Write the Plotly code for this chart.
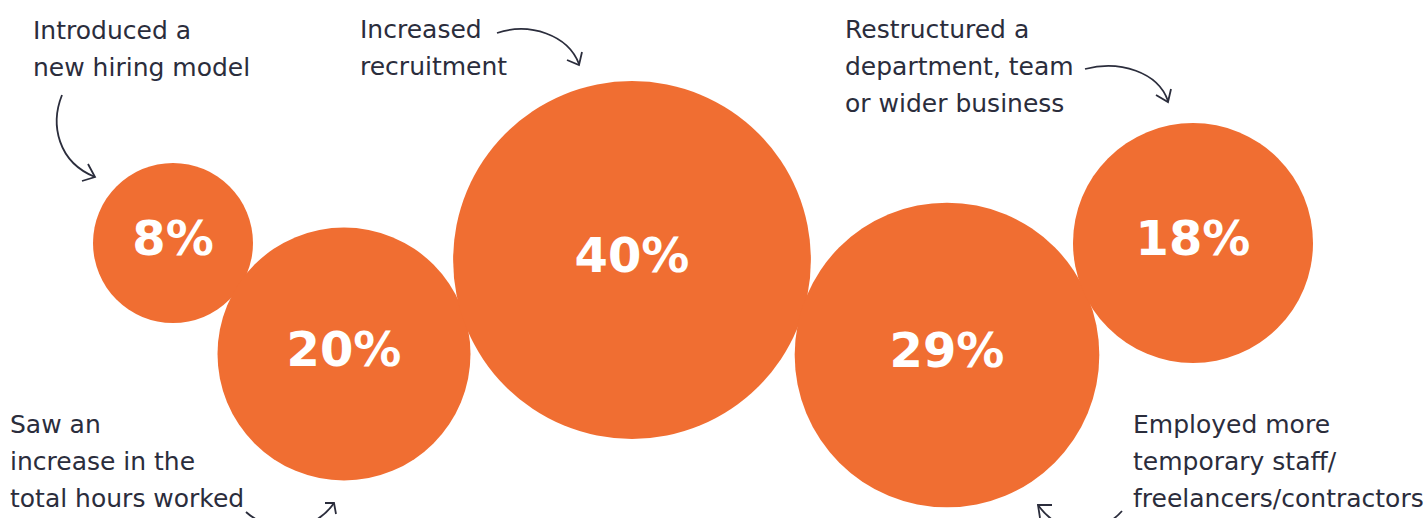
import plotly.graph_objects as go

# ---- data ----
categories = [
    "Introduced a<br>new hiring model",
    "Saw an<br>increase in the<br>total hours worked",
    "Increased<br>recruitment",
    "Employed more<br>temporary staff/<br>freelancers/contractors",
    "Restructured a<br>department, team<br>or wider business",
]
values = [8, 20, 40, 29, 18]
value_labels = ["8%", "20%", "40%", "29%", "18%"]

# ---- layout (pixel positions) ----
W, H = 1428, 518
centers_x = [173, 344, 632, 947, 1193]
centers_y = [243, 354, 260, 355, 243]
label_left = [31, 8, 358, 1131, 843]
label_baseline = [39, 433, 38, 433, 38]
LINE_GAP = 37
REF_VALUE, REF_DIAMETER = 8, 160  # smallest bubble diameter in px

ORANGE = "#F06E32"
INK = "#2B2D3C"

fig = go.Figure()
fig.add_trace(go.Scatter(
    x=centers_x, y=centers_y,
    mode="markers+text",
    text=value_labels,
    textposition="middle center",
    textfont=dict(family="DejaVu Sans", size=48, color="white", weight="bold"),
    marker=dict(size=values, sizemode="area",
                sizeref=2 * REF_VALUE / REF_DIAMETER**2,
                color=ORANGE, line=dict(width=0), opacity=1),
    hoverinfo="skip", showlegend=False,
))

annotations = []
TEXT_SIZE = 25
for lab, x0, b0 in zip(categories, label_left, label_baseline):
    for i, line in enumerate(lab.split("<br>")):
        annotations.append(dict(
            x=x0, y=b0 + i * LINE_GAP - 9, xref="x", yref="y",
            text=line, showarrow=False, xanchor="left", yanchor="middle",
            font=dict(family="DejaVu Sans", size=TEXT_SIZE, color=INK),
        ))

# curved arrows (decorations)
arrow_paths = [
    "M 62 95 C 50 125, 58 162, 95 177",
    "M 497 33 C 530 22, 568 35, 579 64",
    "M 1085 69 C 1120 60, 1158 72, 1168 101",
    "M 246 512 C 268 532, 312 535, 334 503",
    "M 1122 511 C 1100 536, 1060 536, 1038 505",
]
head_paths = [
    "M 82 181 L 95 177 L 88 164",
    "M 567 60 L 579 65 L 582 52",
    "M 1156 95 L 1168 102 L 1171 89",
    "M 325 503 L 334 503 L 336 514",
    "M 1052 505 L 1038 505 L 1040 518",
]
shapes = []
for p in arrow_paths + head_paths:
    shapes.append(dict(type="path", path=p, xref="x", yref="y",
                       line=dict(color=INK, width=1.8), fillcolor="rgba(0,0,0,0)"))

fig.update_layout(
    width=W, height=H,
    margin=dict(l=0, r=0, t=0, b=0),
    paper_bgcolor="white", plot_bgcolor="white",
    xaxis=dict(range=[0, W], visible=False, fixedrange=True),
    yaxis=dict(range=[H, 0], visible=False, fixedrange=True),
    annotations=annotations,
    shapes=shapes,
)

fig.write_html("out.html")
